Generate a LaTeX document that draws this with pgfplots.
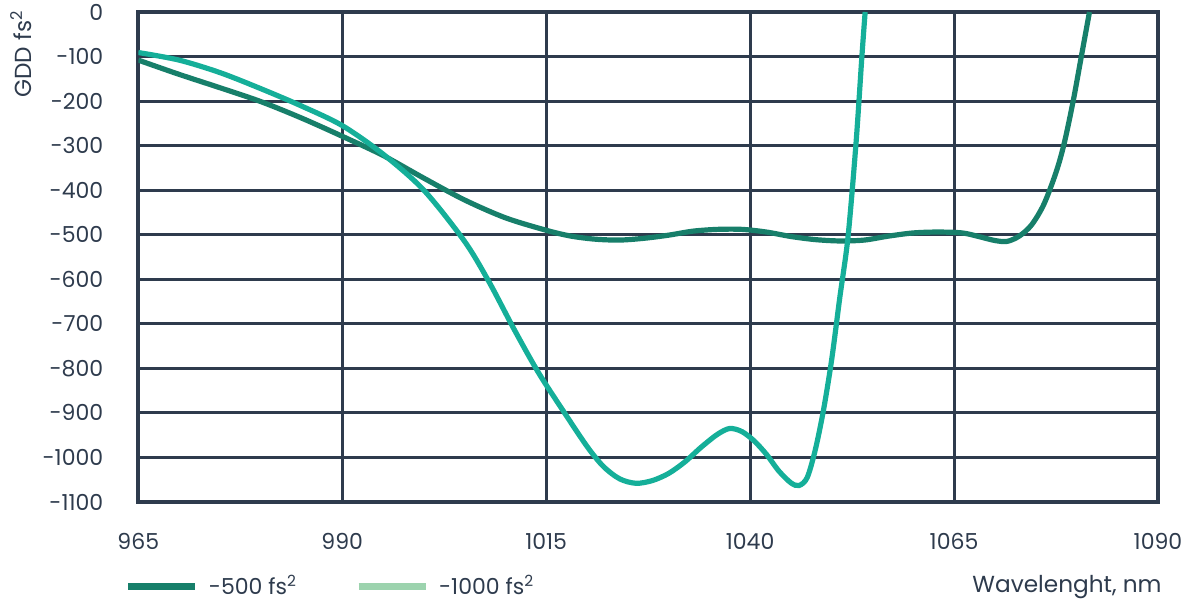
\documentclass[border=0pt]{standalone}
\usepackage{fontspec}
\setmainfont{Poppins}
\usepackage{pgfplots}
\pgfplotsset{compat=1.18}
\definecolor{gridc}{HTML}{2E3B4D}
\definecolor{darkg}{HTML}{177F6A}
\definecolor{lightg}{HTML}{15AF99}
\definecolor{legl}{HTML}{9CD3AE}
\definecolor{txt}{HTML}{2E3B4D}
\begin{document}
\begin{tikzpicture}
\begin{axis}[
  name=ax,
  at={(0,0)}, anchor=south west,
  scale only axis, width=509.85pt, height=245pt,
  xmin=965, xmax=1090, ymin=-1100, ymax=0,
  xtick={965,990,1015,1040,1065,1090},
  xticklabels={965,990,1015,1040,1065,1090},
  ytick={-1100,-1000,-900,-800,-700,-600,-500,-400,-300,-200,-100,0},
  yticklabels={-1100,-1000,-900,-800,-700,-600,-500,-400,-300,-200,-100,0},
  major tick length=0pt,
  grid=major,
  major grid style={gridc, line width=1.5pt},
  axis line style={gridc, line width=2.2pt},
  tick label style={font=\fontsize{11}{13}\selectfont, text=txt},
  xticklabel style={yshift=-12pt},
  yticklabel style={xshift=-14pt},
  legend columns=2,
  legend style={at={(axis description cs:0,0)}, anchor=west, yshift=-42.3pt, xshift=-7pt,
    draw=none, fill=none, inner sep=0pt, font=\fontsize{11}{13}\selectfont, text=txt,
    /tikz/every even column/.append style={column sep=27pt}},
  legend image code/.code={\draw[#1] (0pt,0pt) -- (33.5pt,0pt); \path (36.5pt,0pt);},
]
\addlegendimage{darkg, line width=3.6pt}
\addlegendentry{-500 fs\textsuperscript{2}}
\addlegendimage{legl, line width=3.6pt}
\addlegendentry{-1000 fs\textsuperscript{2}}

\addplot[forget plot, darkg, line width=2.6pt, smooth] coordinates {
(965,-108) (970,-140) (975,-170) (980,-201) (985,-238) (990,-279) (995,-322)
(1000,-373) (1005,-422) (1010,-462) (1015,-490) (1018,-503) (1021,-510) (1024,-512)
(1027,-508) (1030,-501) (1033,-492) (1036,-488) (1039,-488) (1042,-494) (1045,-504)
(1048,-511) (1051,-514) (1054,-512) (1057,-503) (1060,-496) (1063,-494) (1066,-496)
(1068,-504) (1070,-513) (1071.5,-515) (1073,-503) (1074.5,-478) (1076,-432)
(1077.5,-360) (1078.5,-295) (1079.6,-200) (1080.6,-100) (1081.6,0)
};
\addplot[forget plot, lightg, line width=2.6pt, smooth] coordinates {
(965,-91) (970,-108) (975,-136) (980,-172) (985,-211) (990,-255) (995,-319)
(1000,-400) (1005,-515) (1008,-606) (1011,-710) (1014,-808) (1017,-893) (1020,-975)
(1022,-1020) (1024,-1048) (1026,-1058) (1028,-1052) (1030,-1036) (1032,-1010)
(1034,-977) (1036,-948) (1037.5,-935) (1039,-942) (1040.5,-963) (1042,-993)
(1043.5,-1030) (1045,-1057) (1046,-1063) (1047,-1045) (1048,-982) (1049,-893)
(1050,-780) (1051,-640) (1052,-505) (1053,-290) (1053.7,-100) (1054.1,0)
};
\end{axis}
\node[anchor=east, inner sep=0pt, font=\fontsize{11.6}{13}\selectfont, text=txt]
  at ([xshift=2pt, yshift=-42.3pt]ax.south east) {Wavelenght, nm};
\node[rotate=90, anchor=north east, inner sep=0pt, font=\fontsize{11.6}{13}\selectfont, text=txt]
  at (-64.15pt,246pt) {GDD fs\textsuperscript{2}};
\pgfresetboundingbox
\useasboundingbox (-69.15pt,-50.5pt) rectangle (527.35pt,251pt);
\end{tikzpicture}
\end{document}
